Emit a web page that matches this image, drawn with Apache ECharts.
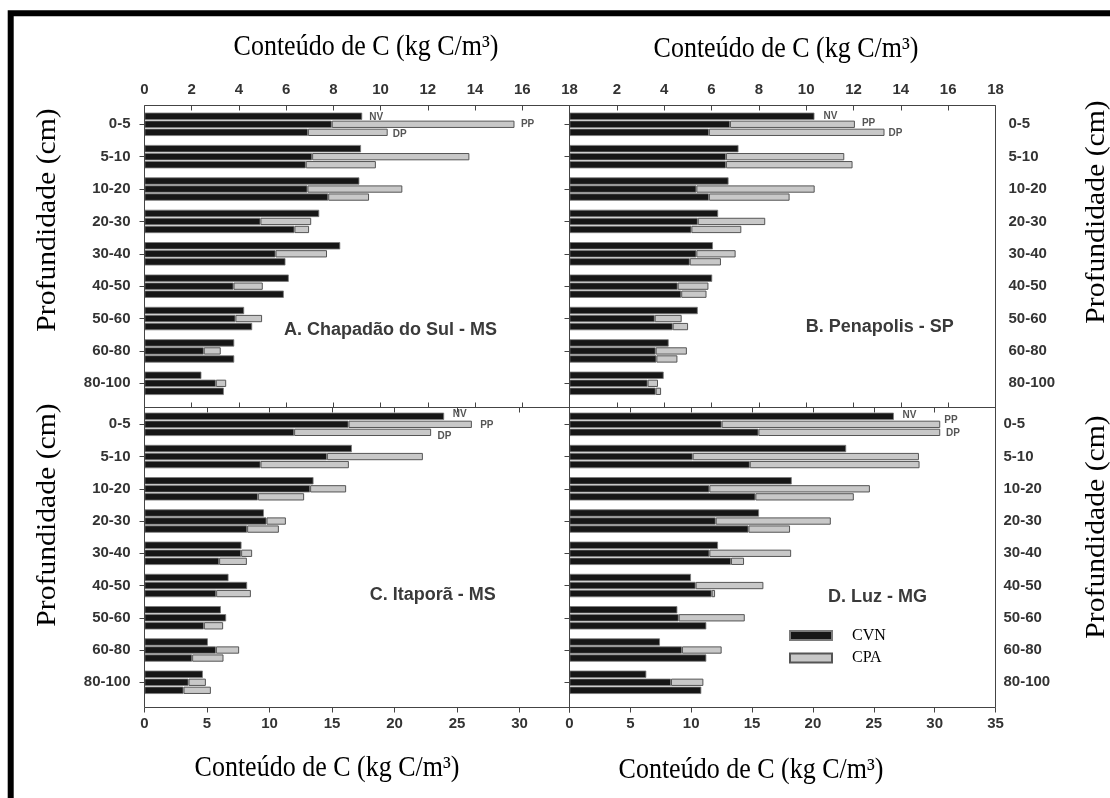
<!DOCTYPE html>
<html><head><meta charset="utf-8">
<script src="https://cdn.jsdelivr.net/npm/echarts@6/dist/echarts.min.js"></script>
<style>html,body{margin:0;padding:0;background:#fff}#c{width:1110px;height:798px}</style>
</head><body><div id="c"></div>
<script>
// ---------------- DATA ----------------
const depths = ['0-5','5-10','10-20','20-30','30-40','40-50','50-60','60-80','80-100'];

// tick labels
const ticksA = [0,2,4,6,8,10,12,14,16,18];
const ticksB = [2,4,6,8,10,12,14,16,18];
const ticksC = [0,5,10,15,20,25,30];
const ticksD = [0,5,10,15,20,25,30,35];

// Panel A - Chapadão do Sul (CVN = black, CPA = grey stacked increment)
const aCvnNV = [9.22, 9.17, 9.10, 7.40, 8.29, 6.11, 4.22, 3.80, 2.41];
const aCvnPP = [7.93, 7.10, 6.90, 4.91, 5.55, 3.77, 3.85, 2.51, 3.02];
const aCpaPP = [7.74, 6.66, 4.02, 2.15, 2.18, 1.24, 1.13, 0.72, 0.44];
const aCvnDP = [6.92, 6.83, 7.78, 6.35, 5.97, 5.90, 4.56, 3.80, 3.36];
const aCpaDP = [3.38, 2.97, 1.73, 0.62, 0, 0, 0, 0, 0];

// Panel B - Penapolis
const bCvnNV = [10.35, 7.14, 6.72, 6.28, 6.06, 6.03, 5.42, 4.19, 3.98];
const bCvnPP = [6.78, 6.61, 5.36, 5.42, 5.36, 4.57, 3.60, 3.64, 3.30];
const bCpaPP = [5.28, 5.00, 5.00, 2.85, 1.66, 1.30, 1.14, 1.32, 0.44];
const bCvnDP = [5.89, 6.61, 5.89, 5.15, 5.08, 4.72, 4.36, 3.67, 3.64];
const bCpaDP = [7.42, 5.35, 3.41, 2.11, 1.32, 1.07, 0.65, 0.89, 0.23];

// Panel C - Itaporã
const cCvnNV = [23.97, 16.59, 13.52, 9.55, 7.76, 6.72, 6.11, 5.07, 4.67];
const cCvnPP = [16.32, 14.59, 13.25, 9.76, 7.73, 8.21, 6.53, 5.71, 3.52];
const cCpaPP = [9.87, 7.68, 2.88, 1.55, 0.88, 0, 0, 1.86, 1.39];
const cCvnDP = [11.97, 9.28, 9.07, 8.21, 5.97, 5.73, 4.75, 3.81, 3.12];
const cCpaDP = [10.96, 7.07, 3.70, 2.54, 2.22, 2.78, 1.54, 2.51, 2.19];

// Panel D - Luz
const dCvnNV = [26.65, 22.73, 18.26, 15.57, 12.20, 9.98, 8.86, 7.43, 6.31];
const dCvnPP = [12.50, 10.12, 11.49, 12.01, 11.49, 10.36, 8.97, 9.24, 8.34];
const dCpaPP = [17.96, 18.59, 13.19, 9.46, 6.72, 5.57, 5.43, 3.26, 2.66];
const dCvnDP = [15.52, 14.81, 15.27, 14.70, 13.27, 11.68, 11.24, 11.24, 10.83];
const dCpaDP = [14.94, 13.95, 8.09, 3.42, 1.07, 0.28, 0, 0, 0];

const panelTitles = ['A. Chapadão do Sul - MS', 'B. Penapolis - SP', 'C. Itaporã - MS', 'D. Luz - MG'];
const xTitle = 'Conteúdo de C (kg C/m³)';
const yTitle = 'Profundidade (cm)';
const legendNames = ['CVN', 'CPA'];
const barTags = ['NV', 'PP', 'DP'];

// ---------------- LAYOUT / STYLE ----------------
const SANS = 'Liberation Sans, Arial, sans-serif';
const SERIF = 'Liberation Serif, Times New Roman, serif';
const BLACK = {color: '#161616', borderColor: '#7a7a7a', borderWidth: 0.8};
const GREY = {color: '#c8c8c8', borderColor: '#555', borderWidth: 1};

const panels = [
  {series: [aCvnNV, aCvnPP, aCpaPP, aCvnDP, aCpaDP], max: 18, interval: 2, ticks: ticksA,
   gx: 144.5, gw: 425, gy: 108.1, gh: 291.4, fy: 105.5, fh: 302, labelTop: true, ySide: 'left',
   tags: [[7, 0.5], [6.4, 0], [5, 2.3]]},
  {series: [bCvnNV, bCvnPP, bCpaPP, bCvnDP, bCpaDP], max: 18, interval: 2, ticks: ticksB,
   gx: 569.5, gw: 426, gy: 108.1, gh: 291.4, fy: 105.5, fh: 302, labelTop: true, ySide: 'right', rightTicks: true,
   tags: [[9, 0.4], [7, -1.5], [4, 0.8]]},
  {series: [cCvnNV, cCvnPP, cCpaPP, cCvnDP, cCpaDP], max: 34, interval: 5, ticks: ticksC,
   gx: 144.5, gw: 425, gy: 408.2, gh: 290.2, fy: 407.5, fh: 300, labelTop: false, ySide: 'left',
   tags: [[8.7, -1.7], [8.3, 1], [6.3, 3.5]]},
  {series: [dCvnNV, dCvnPP, dCpaPP, dCvnDP, dCpaDP], max: 35, interval: 5, ticks: ticksD,
   gx: 569.5, gw: 426, gy: 408.2, gh: 290.2, fy: 407.5, fh: 300, labelTop: false, ySide: 'right', rightTicks: false,
   tags: [[8.7, -1.3], [4, -4], [5.7, 0.8]]}
];

const grid = [], xAxis = [], yAxis = [], series = [], graphic = [];

// outer thick frame
graphic.push({type: 'rect', shape: {x: 10.7, y: 13.3, width: 1400, height: 1000},
  style: {fill: 'none', stroke: '#000', lineWidth: 6}, z: 100});

panels.forEach((p, i) => {
  grid.push({left: p.gx, top: p.gy, width: p.gw, height: p.gh, containLabel: false, outerBoundsMode: 'none'});
  const topOff = p.gy - p.fy;
  const botOff = (p.fy + p.fh) - (p.gy + p.gh);
  const fmt = v => (p.ticks.indexOf(v) >= 0 ? String(v) : '');
  const xBase = {type: 'value', gridIndex: i, min: 0, max: p.max, interval: p.interval,
    splitLine: {show: false}, axisLine: {show: false}};
  const xTopIdx = xAxis.length;
  xAxis.push(Object.assign({}, xBase, {position: 'top', offset: topOff,
    axisTick: {show: true, inside: true, length: 5, lineStyle: {color: '#444'}},
    axisLabel: {show: p.labelTop, formatter: fmt, margin: 8, fontFamily: SANS, fontWeight: 'bold', fontSize: 15, color: '#333'}}));
  const xBotIdx = xAxis.length;
  xAxis.push(Object.assign({}, xBase, {position: 'bottom', offset: botOff,
    axisTick: {show: true, inside: p.labelTop, length: 5, lineStyle: {color: '#444'}},
    axisLabel: {show: !p.labelTop, formatter: fmt, margin: 9, fontFamily: SANS, fontWeight: 'bold', fontSize: 15, color: '#333'}}));
  const xIdx = p.labelTop ? xTopIdx : xBotIdx;

  const yIdx = yAxis.length;
  yAxis.push({type: 'category', gridIndex: i, data: depths, inverse: true, position: p.ySide,
    axisLine: {show: false}, splitLine: {show: false},
    axisTick: {show: p.ySide === 'left' || p.rightTicks, alignWithLabel: true, length: 5, lineStyle: {color: '#444'}},
    axisLabel: {margin: p.ySide === 'left' ? 14 : (p.rightTicks ? 13 : 8), fontFamily: SANS, fontWeight: 'bold', fontSize: 15, color: '#333'}});
  if (p.ySide === 'right') {
    yAxis.push({type: 'category', gridIndex: i, data: depths, inverse: true, position: 'left',
      axisLine: {show: false}, splitLine: {show: false}, axisLabel: {show: false},
      axisTick: {show: true, alignWithLabel: true, length: 5, lineStyle: {color: '#444'}}});
  }

  const tagLabel = (k) => ({show: true, position: 'right', formatter: barTags[k],
    distance: p.tags[k][0], offset: [0, p.tags[k][1]],
    fontFamily: SANS, fontWeight: 'bold', fontSize: 10, color: '#555'});
  const withTag = (arr, k) => arr.map((v, j) => {
    const val = v === 0 ? '-' : v;
    return j === 0 ? {value: val, label: tagLabel(k)} : val;
  });
  const common = {type: 'bar', xAxisIndex: xIdx, yAxisIndex: yIdx, barWidth: 7.3, barGap: '10%',
    animation: false, emphasis: {disabled: true}};
  const s = p.series;
  series.push(Object.assign({}, common, {name: legendNames[0], stack: 'nv' + i, data: withTag(s[0], 0), itemStyle: BLACK}));
  series.push(Object.assign({}, common, {name: legendNames[0], stack: 'pp' + i, data: s[1], itemStyle: BLACK}));
  series.push(Object.assign({}, common, {name: legendNames[1], stack: 'pp' + i, data: withTag(s[2], 1), itemStyle: GREY}));
  series.push(Object.assign({}, common, {name: legendNames[0], stack: 'dp' + i, data: s[3], itemStyle: BLACK}));
  series.push(Object.assign({}, common, {name: legendNames[1], stack: 'dp' + i, data: withTag(s[4], 2), itemStyle: GREY}));

  // panel frame
  graphic.push({type: 'rect', shape: {x: p.gx, y: p.fy, width: p.gw, height: p.fh},
    style: {fill: 'none', stroke: '#444', lineWidth: 1}, z: 50, silent: true});
});

// panel titles
const titlePos = [[390.5, 330], [879.7, 327.3], [432.7, 595], [877.5, 596.7]];
panelTitles.forEach((t, i) => graphic.push({type: 'text', x: titlePos[i][0], y: titlePos[i][1], z: 60,
  style: {text: t, fontFamily: SANS, fontWeight: 'bold', fontSize: 18, fill: '#3a3a3a', align: 'center', verticalAlign: 'middle'}}));

// x axis titles
[[366, 47], [786, 49], [327, 768], [751, 770]].forEach(pos => graphic.push({type: 'text', x: pos[0], y: pos[1], z: 60,
  scaleY: 1.1,
  style: {text: xTitle, fontFamily: SERIF, fontSize: 26, fill: '#000', align: 'center', verticalAlign: 'middle'}}));

// y axis titles (rotated)
[[47.5, 220], [47.5, 515], [1097, 212], [1097, 527]].forEach(pos => graphic.push({type: 'text', x: pos[0], y: pos[1], z: 60,
  rotation: Math.PI / 2, scaleX: 1.1,
  style: {text: yTitle, fontFamily: SERIF, fontSize: 27, fill: '#000', align: 'center', verticalAlign: 'middle'}}));

const option = {
  animation: false,
  backgroundColor: '#fff',
  grid, xAxis, yAxis, series, graphic,
  legend: {data: legendNames, orient: 'vertical', left: 784, top: 621.5, itemWidth: 42, itemHeight: 9, itemGap: 4.5,
    icon: 'rect', selectedMode: false,
    textStyle: {fontFamily: SERIF, fontSize: 16, color: '#000', lineHeight: 18, padding: [0, 0, 0, 15]}}
};
const chart = echarts.init(document.getElementById('c'), null, {renderer: 'canvas'});
chart.setOption(option);
</script></body></html>
